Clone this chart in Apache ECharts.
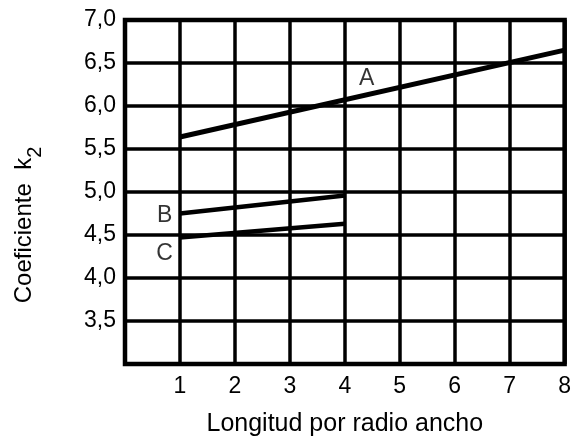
<!DOCTYPE html>
<html>
<head>
<meta charset="utf-8">
<script src="https://cdn.jsdelivr.net/npm/echarts@6/dist/echarts.min.js"></script>
<style>
  html, body { margin: 0; padding: 0; background: #fff; }
  #chart { width: 574px; height: 444px; }
</style>
</head>
<body>
<div id="chart"></div>
<script>
// lines: [x, k2]
const lineA = [[1, 5.64], [8, 6.65]];
const lineB = [[1, 4.75], [4, 4.96]];
const lineC = [[1, 4.47], [4, 4.63]];

// letters next to the lines
const curveLabels = [
  { name: 'A', value: [4.4, 6.32] },
  { name: 'B', value: [0.72, 4.73] },
  { name: 'C', value: [0.72, 4.28] }
];

const xTickLabels = ['', '1', '2', '3', '4', '5', '6', '7', '8'];
const yTickLabels = ['', '3,5', '4,0', '4,5', '5,0', '5,5', '6,0', '6,5', '7,0'];

const font = 'Liberation Sans';

const chart = echarts.init(document.getElementById('chart'));

function lineSeries(data, width) {
  return {
    type: 'line',
    data: data,
    symbol: 'none',
    lineStyle: { color: '#000', width: width },
    z: 5
  };
}

const option = {
  animation: false,
  backgroundColor: '#fff',
  grid: {
    left: 125, right: 9, top: 20, bottom: 80,
    show: true,
    borderColor: '#000',
    borderWidth: 4.5
  },
  xAxis: {
    type: 'value',
    min: 0, max: 8, interval: 1,
    name: 'Longitud por radio ancho',
    nameLocation: 'middle',
    nameGap: 48,
    nameTextStyle: { color: '#000', fontSize: 25, fontFamily: font },
    axisLine: { show: false },
    axisTick: { show: false },
    axisLabel: {
      color: '#000', fontSize: 23, fontFamily: font, margin: 11,
      formatter: v => xTickLabels[Math.round(v)]
    },
    splitLine: { lineStyle: { color: '#000', width: 3.5 } }
  },
  yAxis: {
    type: 'value',
    min: 3, max: 7, interval: 0.5,
    name: '{a|Coeficiente  k}{b|2}',
    nameLocation: 'middle',
    nameRotate: 90,
    nameGap: 80,
    nameTextStyle: {
      color: '#000', fontFamily: font,
      padding: [0, 66, 0, 0],
      rich: {
        a: { fontSize: 24, fontFamily: font, color: '#000', verticalAlign: 'bottom', padding: [0, 0, 9, 0] },
        b: { fontSize: 20, fontFamily: font, color: '#000', verticalAlign: 'bottom' }
      }
    },
    axisLine: { show: false },
    axisTick: { show: false },
    axisLabel: {
      color: '#000', fontSize: 23, fontFamily: font, margin: 9,
      formatter: v => yTickLabels[Math.round((v - 3) * 2)]
    },
    splitLine: { lineStyle: { color: '#000', width: 3.5 } }
  },
  series: [
    lineSeries(lineA, 5),
    lineSeries(lineB, 4.5),
    lineSeries(lineC, 4.5),
    {
      type: 'scatter',
      data: curveLabels,
      symbolSize: 0,
      label: {
        show: true,
        position: 'inside',
        formatter: p => p.name,
        color: '#000',
        fontSize: 23,
        fontFamily: font
      },
      z: 6
    }
  ]
};

chart.setOption(option);
</script>
</body>
</html>
